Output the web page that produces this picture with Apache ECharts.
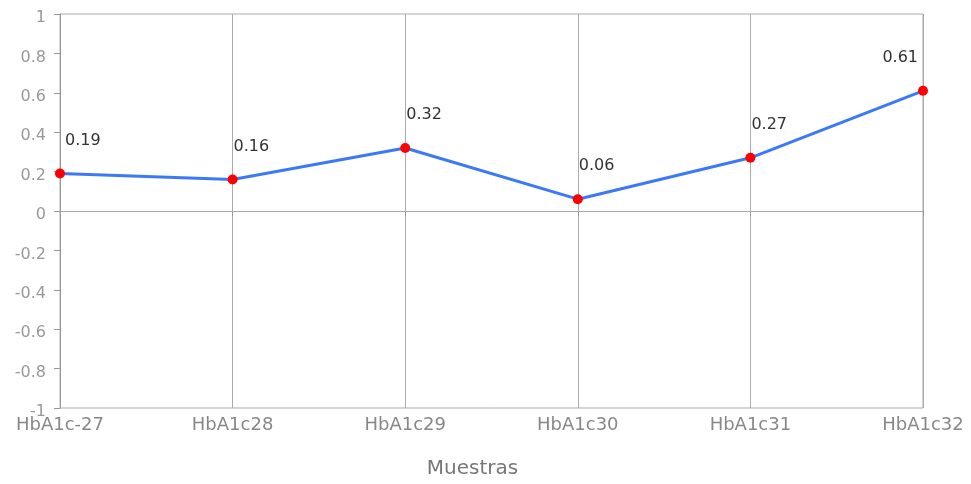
<!DOCTYPE html>
<html><head><meta charset="utf-8">
<script src="https://cdn.jsdelivr.net/npm/echarts@6/dist/echarts.min.js"></script>
<style>html,body{margin:0;padding:0;background:#fff}#c{width:971px;height:484px}</style>
</head><body><div id="c"></div>
<script>
const categories = ['HbA1c-27','HbA1c28','HbA1c29','HbA1c30','HbA1c31','HbA1c32'];
const values = [0.19, 0.16, 0.32, 0.06, 0.27, 0.61];
const yTicks = {min: -1, max: 1, interval: 0.2};
const xTitle = 'Muestras';

const FONT = 'DejaVu Sans';
const chart = echarts.init(document.getElementById('c'));
const data = values.map((v, i) => {
  const last = i === values.length - 1;
  return {
    value: v,
    label: {
      align: last ? 'right' : 'left',
      offset: last ? [-5, 0] : [i === 0 ? 5 : 1, 0]
    }
  };
});
chart.setOption({
  animation: false,
  grid: {left: 60, right: 48, top: 14, bottom: 76, show: true, borderColor: '#aaa', borderWidth: 1},
  xAxis: {
    type: 'category', data: categories, boundaryGap: false,
    name: xTitle, nameLocation: 'middle', nameGap: 51,
    nameTextStyle: {fontFamily: FONT, fontSize: 20, color: '#777', padding: [0, 38, 0, 0]},
    axisLine: {lineStyle: {color: '#999'}},
    axisTick: {show: true, length: 5, alignWithLabel: true, lineStyle: {color: '#999'}},
    axisLabel: {fontFamily: FONT, fontSize: 18, color: '#888', margin: 8, interval: 0},
    splitLine: {show: true, lineStyle: {color: '#aaa', width: 1}}
  },
  yAxis: {
    type: 'value', min: yTicks.min, max: yTicks.max, interval: yTicks.interval,
    axisLine: {show: true, lineStyle: {color: '#999'}},
    axisTick: {show: true, length: 6, lineStyle: {color: '#999'}},
    axisLabel: {margin: 14,
      formatter: v => '{t|' + String(Math.round(v * 10) / 10) + '}',
      rich: {t: {fontFamily: FONT, fontSize: 16, color: '#999', padding: [8, 0, 0, 0]}}},
    splitLine: {show: false}
  },
  series: [{
    type: 'line', data: data,
    symbol: 'circle', symbolSize: 10,
    itemStyle: {color: '#ff0000'},
    lineStyle: {color: '#3b79f7', width: 3},
    label: {show: true, position: 'top', distance: 20, fontFamily: FONT, fontSize: 16, color: '#333',
      formatter: p => p.value.toFixed(2)},
    markLine: {silent: true, symbol: 'none', label: {show: false},
      lineStyle: {color: '#aaa', type: 'solid', width: 1}, data: [{yAxis: 0}]},
    z: 3
  }]
});
</script></body></html>
